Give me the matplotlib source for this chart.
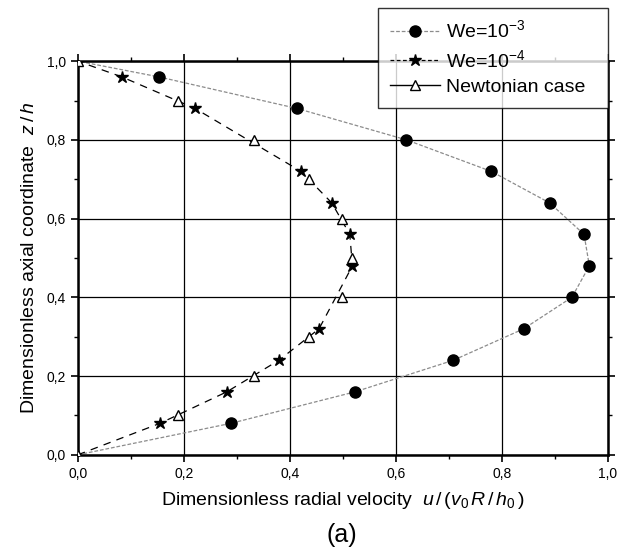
import matplotlib
matplotlib.use("Agg")
import matplotlib.pyplot as plt
from matplotlib.lines import Line2D
from matplotlib.ticker import MultipleLocator, FuncFormatter

plt.rcParams['font.family'] = ['Liberation Sans', 'DejaVu Sans']
plt.rcParams['mathtext.fontset'] = 'custom'
plt.rcParams['mathtext.rm'] = 'Liberation Sans'
plt.rcParams['mathtext.it'] = 'Liberation Sans:italic'

# We = 1e-3 (circles), curve passes through (0,0) and (0,1)
we3_u = [0.0, 0.289, 0.523, 0.708, 0.841, 0.932, 0.965, 0.955, 0.89, 0.78, 0.62, 0.413, 0.153, 0.0]
we3_z = [0.0, 0.08, 0.16, 0.24, 0.32, 0.40, 0.48, 0.56, 0.64, 0.72, 0.80, 0.88, 0.96, 1.0]

# We = 1e-4 (stars)
we4_u = [0.0, 0.155, 0.281, 0.379, 0.455, 0.518, 0.513, 0.479, 0.421, 0.221, 0.083, 0.0]
we4_z = [0.0, 0.08, 0.16, 0.24, 0.32, 0.48, 0.56, 0.64, 0.72, 0.88, 0.96, 1.0]

# Newtonian case (open triangles)
newt_u = [0.0, 0.189, 0.332, 0.436, 0.498, 0.518, 0.498, 0.436, 0.332, 0.189, 0.0]
newt_z = [0.0, 0.1, 0.2, 0.3, 0.4, 0.5, 0.6, 0.7, 0.8, 0.9, 1.0]

fig = plt.figure(figsize=(6.28, 5.56), dpi=100)
ax = fig.add_axes([0.124, 0.182, 0.844, 0.708])

ax.plot(we3_u, we3_z, color='#8c8c8c', lw=0.9, ls=(0, (3, 1.5)), zorder=2)
ax.plot(we3_u[1:-1], we3_z[1:-1], 'o', color='black', ms=8, ls='none', zorder=4)

ax.plot(we4_u, we4_z, color='black', lw=0.9, ls=(0, (6, 5)), zorder=2)
ax.plot(we4_u[1:-1], we4_z[1:-1], '*', color='black', ms=9, ls='none', zorder=4)

ax.plot(newt_u, newt_z, '^', mfc='white', mec='black', mew=1.0, ms=7, ls='none', zorder=5)

ax.set_xlim(0, 1.0)
ax.set_ylim(0, 1.0)
ax.xaxis.set_major_locator(MultipleLocator(0.2))
ax.yaxis.set_major_locator(MultipleLocator(0.2))
ax.xaxis.set_minor_locator(MultipleLocator(0.1))
ax.yaxis.set_minor_locator(MultipleLocator(0.1))
fmt = FuncFormatter(lambda v, p: f"{v:.1f}".replace('.', ','))
ax.xaxis.set_major_formatter(fmt)
ax.yaxis.set_major_formatter(fmt)
ax.grid(True, which='major', color='black', lw=0.9)
ax.set_axisbelow(True)
ax.tick_params(which='major', direction='out', length=5, width=1.2, labelsize=10)
ax.tick_params(which='minor', direction='out', length=3, width=1.0)
ax.tick_params(which='both', top=True, right=True)
for s in ax.spines.values():
    s.set_linewidth(1.8)

ax.set_xlabel(r'Dimensionless radial velocity  $u\,/\,(v_0\,R\,/\,h_0\,)$', fontsize=14, labelpad=7)
ax.set_ylabel(r'Dimensionless axial coordinate  $z\,/\,h$', fontsize=14, labelpad=6)
fig.text(0.545, 0.038, '(a)', fontsize=18, ha='center', va='center')

handles = [
    Line2D([], [], color='#8c8c8c', lw=0.9, ls=(0, (3, 1.5)), marker='o', mfc='black', mec='black', ms=8),
    Line2D([], [], color='black', lw=0.9, ls=(0, (3, 2)), marker='*', mfc='black', mec='black', ms=9),
    Line2D([], [], color='black', lw=1.0, ls='-', marker='^', mfc='white', mec='black', ms=7),
]
labels = ['We=10$^{-3}$', 'We=10$^{-4}$', 'Newtonian case  ']
leg = fig.legend(handles, labels, loc='upper left', bbox_to_anchor=(0.602, 0.986),
                 fontsize=14, frameon=True, fancybox=False, edgecolor='black',
                 handlelength=2.6, handletextpad=0.3, borderpad=0.6, labelspacing=0.39,
                 borderaxespad=0)
leg.get_frame().set_linewidth(1.0)
leg.set_zorder(10)

fig.savefig('out.png', dpi=100)
